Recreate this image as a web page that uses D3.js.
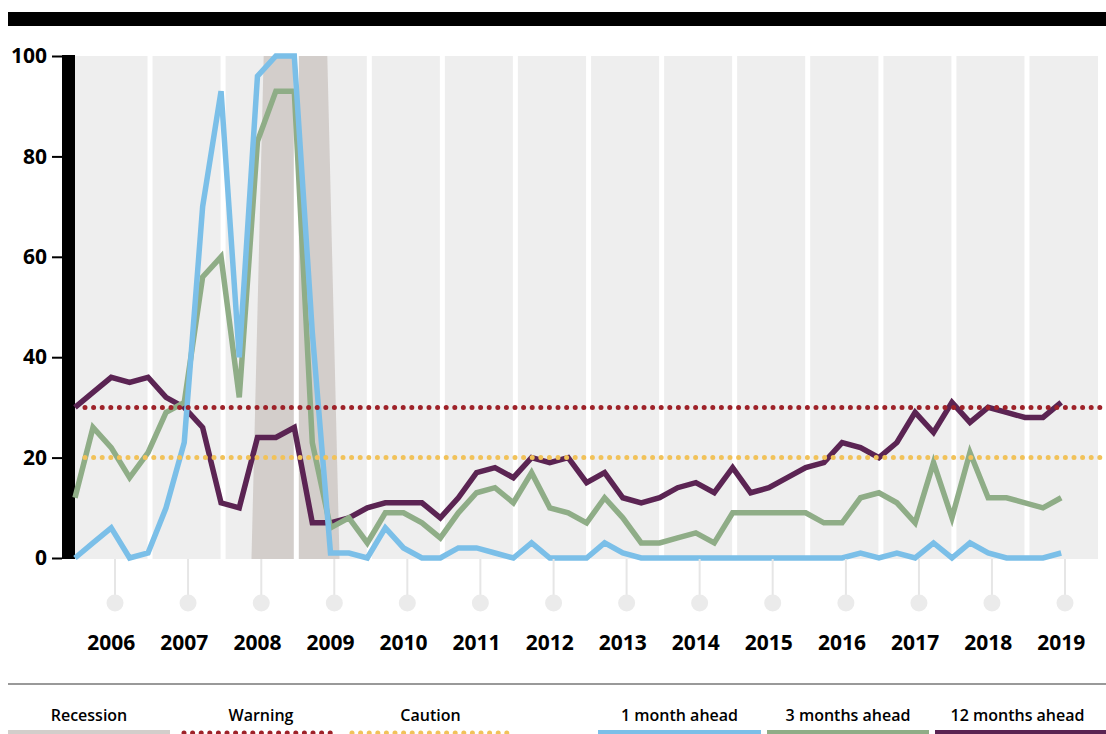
<!DOCTYPE html>
<html>
<head>
<meta charset="utf-8">
<script src="https://cdn.jsdelivr.net/npm/d3@7"></script>
<style>
  body { margin: 0; background: #fff; }
  svg { display: block; font-family: "Open Sans", "Noto Sans", sans-serif; }
</style>
</head>
<body>
<div id="chart"></div>
<script>
var quarters = [
  "2006-01","2006-04","2006-07","2006-10","2007-01","2007-04","2007-07","2007-10",
  "2008-01","2008-04","2008-07","2008-10","2009-01","2009-04","2009-07","2009-10",
  "2010-01","2010-04","2010-07","2010-10","2011-01","2011-04","2011-07","2011-10",
  "2012-01","2012-04","2012-07","2012-10","2013-01","2013-04","2013-07","2013-10",
  "2014-01","2014-04","2014-07","2014-10","2015-01","2015-04","2015-07","2015-10",
  "2016-01","2016-04","2016-07","2016-10","2017-01","2017-04","2017-07","2017-10",
  "2018-01","2018-04","2018-07","2018-10","2019-01","2019-04","2019-07"
];
var oneMonth = [0,3,6,0,1,10,23,70,93,40,96,100,100,45,1,1,0,6,2,0,0,2,2,1,0,3,0,0,0,3,1,0,
  0,0,0,0,0,0,0,0,0,0,0,1,0,1,0,3,0,3,1,0,0,0,1];
var threeMonths = [12,26,22,16,21,29,31,56,60,32,83,93,93,23,6,8,3,9,9,7,4,9,13,14,11,17,10,9,7,12,8,3,
  3,4,5,3,9,9,9,9,9,7,7,12,13,11,7,19,8,21,12,12,11,10,12];
var twelveMonths = [30,33,36,35,36,32,30,26,11,10,24,24,26,7,7,8,10,11,11,11,8,12,17,18,16,20,19,20,15,17,12,11,
  12,14,15,13,18,13,14,16,18,19,23,22,20,23,29,25,31,27,30,29,28,28,31];
var recession = [["2008-06-01",0],["2008-08-01",100],["2009-06-15",100],["2009-08-15",0]];
var warningLevel = 30;
var cautionLevel = 20;
var yTicks = [0,20,40,60,80,100];
var years = [2006,2007,2008,2009,2010,2011,2012,2013,2014,2015,2016,2017,2018,2019];

var width = 1106, height = 734;
var parseQ = d3.utcParse("%Y-%m");
var parseD = d3.utcParse("%Y-%m-%d");

var svg = d3.select("#chart").append("svg")
  .attr("width", width)
  .attr("height", height);

var x = d3.scaleUtc()
  .domain([new Date(Date.UTC(2006,0,1)), new Date(Date.UTC(2020,0,1))])
  .range([75, 1098]);
var y = d3.scaleLinear().domain([0,100]).range([558, 56]);

// top black bar
svg.append("rect").attr("x", 8).attr("y", 12).attr("width", width - 8).attr("height", 14).attr("fill", "#000");

// grey plot background
svg.append("rect")
  .attr("x", x.range()[0]).attr("y", y(100))
  .attr("width", x.range()[1] - x.range()[0]).attr("height", y(0) - y(100) + 1)
  .attr("fill", "#eeeeee");

// recession band
var band = d3.area()
  .x(function(d) { return x(parseD(d[0])); })
  .y0(y(0) + 1)
  .y1(function(d) { return d[1] == 0 ? y(0) + 1 : y(d[1]); });
svg.append("path").datum(recession).attr("d", band).attr("fill", "#d3cecb");

// white gaps between years
svg.selectAll(".gap")
  .data(years.slice(1))
  .enter().append("rect")
  .attr("class", "gap")
  .attr("x", function(d) { return x(new Date(Date.UTC(d,0,1))) - 0.5; })
  .attr("y", y(100))
  .attr("width", 5)
  .attr("height", y(0) - y(100) + 1)
  .attr("fill", "#fff");

// y axis
svg.append("rect").attr("x", 62).attr("y", y(100) - 1).attr("width", 13).attr("height", y(0) - y(100) + 2).attr("fill", "#000");
var yAxis = svg.append("g")
  .attr("transform", "translate(62,0)")
  .call(d3.axisLeft(y).tickValues(yTicks).tickSize(10).tickPadding(5));
yAxis.select(".domain").remove();
yAxis.selectAll(".tick line").attr("stroke", "#000").attr("stroke-width", 2);
yAxis.selectAll(".tick text")
  .attr("fill", "#000")
  .style("font-family", "'Open Sans', sans-serif")
  .style("font-size", "21px")
  .style("font-weight", 700);

// series
var line = d3.line()
  .x(function(d, i) { return x(parseQ(quarters[i])); })
  .y(function(d) { return y(d); });
var series = [
  { values: twelveMonths, color: "#5b2453" },
  { values: threeMonths, color: "#8fad87" },
  { values: oneMonth, color: "#7bbfe8" }
];
svg.selectAll(".series")
  .data(series)
  .enter().append("path")
  .attr("class", "series")
  .attr("d", function(d) { return line(d.values); })
  .attr("fill", "none")
  .attr("stroke", function(d) { return d.color; })
  .attr("stroke-width", 5.5);

// threshold dotted lines
var levels = [
  { value: warningLevel, color: "#9e2229" },
  { value: cautionLevel, color: "#f1c25a" }
];
svg.selectAll(".level")
  .data(levels)
  .enter().append("line")
  .attr("class", "level")
  .attr("x1", 85).attr("x2", 1100)
  .attr("y1", function(d) { return y(d.value); })
  .attr("y2", function(d) { return y(d.value); })
  .attr("stroke", function(d) { return d.color; })
  .attr("stroke-width", 5)
  .attr("stroke-linecap", "round")
  .attr("stroke-dasharray", "0 8.6");

// bottom year markers
var yr = svg.selectAll(".yr")
  .data(years)
  .enter().append("g")
  .attr("class", "yr");
yr.append("line")
  .attr("x1", function(d) { return x(new Date(Date.UTC(d,6,20))); })
  .attr("x2", function(d) { return x(new Date(Date.UTC(d,6,20))); })
  .attr("y1", y(0) + 1).attr("y2", 596)
  .attr("stroke", "#e6e6e6").attr("stroke-width", 2);
yr.append("circle")
  .attr("cx", function(d) { return x(new Date(Date.UTC(d,6,20))); })
  .attr("cy", 603)
  .attr("r", 8.5)
  .attr("fill", "#ebebeb");
yr.append("text")
  .attr("x", function(d) { return x(new Date(Date.UTC(d,6,1))); })
  .attr("y", 650)
  .attr("text-anchor", "middle")
  .style("font-size", "21px")
  .style("font-weight", 700)
  .text(function(d) { return d; });

// legend
svg.append("line").attr("x1", 8).attr("x2", width).attr("y1", 684).attr("y2", 684)
  .attr("stroke", "#777").attr("stroke-width", 1.5);

var legendItems = [
  { label: "Recession", x1: 8, x2: 170, kind: "bar", color: "#d3cecb" },
  { label: "Warning", x1: 184, x2: 338, kind: "dots", color: "#9e2229" },
  { label: "Caution", x1: 352, x2: 509, kind: "dots", color: "#f1c25a" },
  { label: "1 month ahead", x1: 598, x2: 761, kind: "bar", color: "#7bbfe8" },
  { label: "3 months ahead", x1: 767, x2: 929, kind: "bar", color: "#8fad87" },
  { label: "12 months ahead", x1: 935, x2: 1106, kind: "bar", color: "#5b2453" }
];
var lg = svg.selectAll(".lg")
  .data(legendItems)
  .enter().append("g")
  .attr("class", "lg");
lg.append("text")
  .attr("x", function(d) { return (d.x1 + d.x2) / 2 + (d.label == "12 months ahead" ? -3 : 0); })
  .attr("y", 721)
  .attr("text-anchor", "middle")
  .style("font-size", "16px")
  .style("font-weight", 600)
  .text(function(d) { return d.label; });
lg.filter(function(d) { return d.kind == "bar"; })
  .append("rect")
  .attr("x", function(d) { return d.x1; })
  .attr("y", 730)
  .attr("width", function(d) { return d.x2 - d.x1; })
  .attr("height", 6)
  .attr("fill", function(d) { return d.color; });
lg.filter(function(d) { return d.kind == "dots"; })
  .append("line")
  .attr("x1", function(d) { return d.x1; })
  .attr("x2", function(d) { return d.x2; })
  .attr("y1", 733).attr("y2", 733)
  .attr("stroke", function(d) { return d.color; })
  .attr("stroke-width", 5)
  .attr("stroke-linecap", "round")
  .attr("stroke-dasharray", "0 8.6");
</script>
</body>
</html>
